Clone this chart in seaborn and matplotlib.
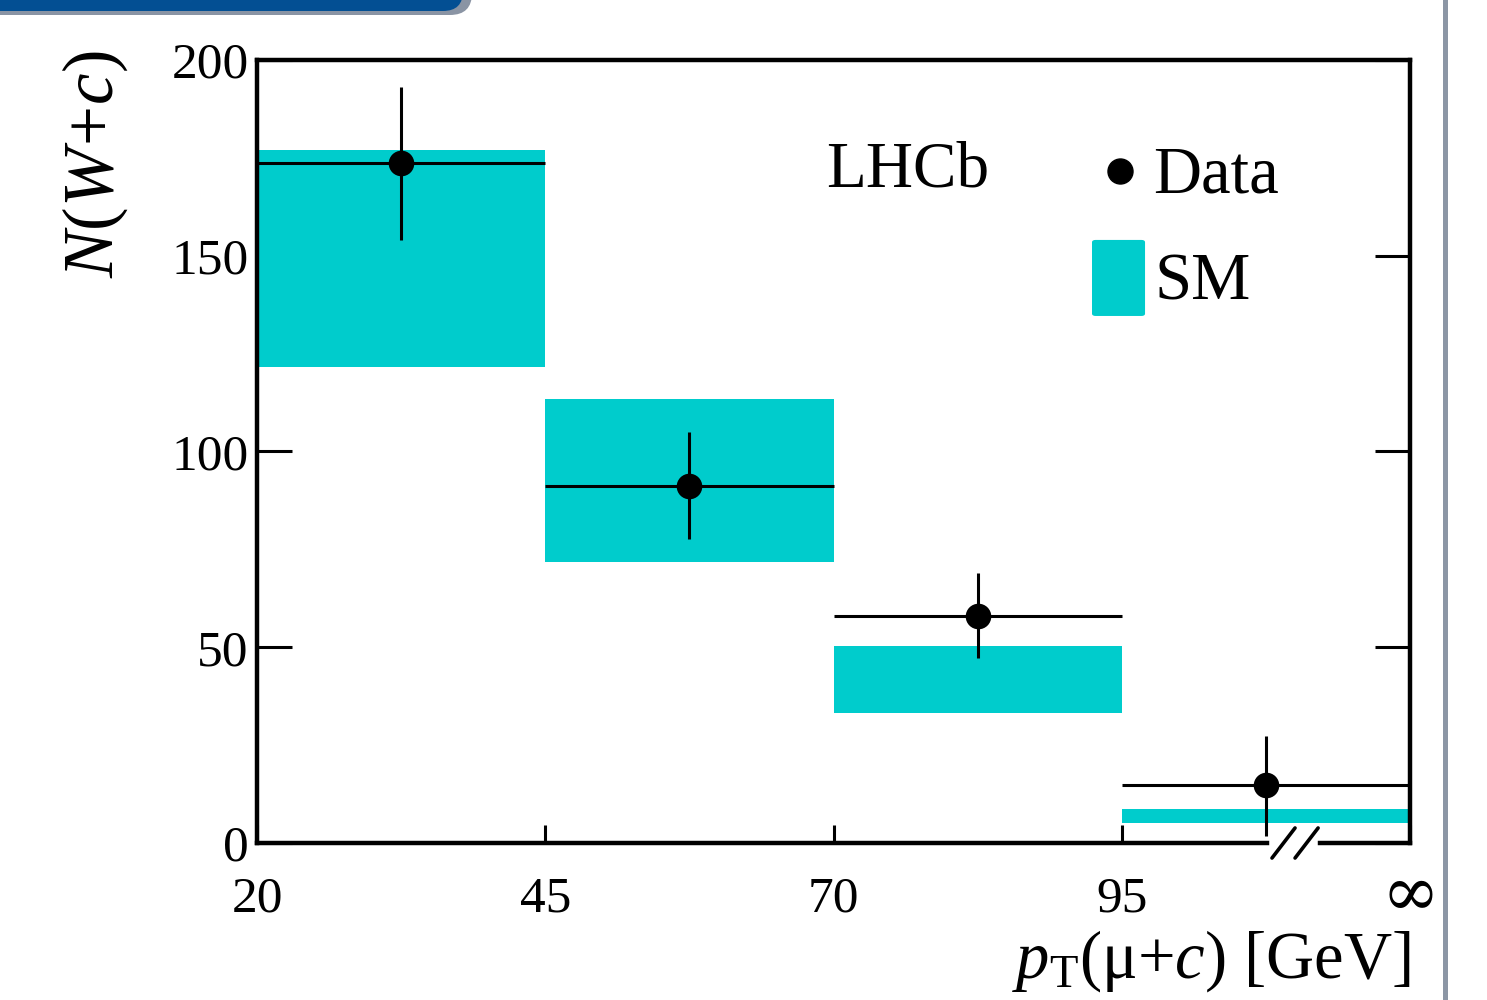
import matplotlib
matplotlib.use("Agg")
import matplotlib.pyplot as plt
import seaborn as sns
import pandas as pd
from matplotlib.patches import FancyBboxPatch, Rectangle
from matplotlib.lines import Line2D
from matplotlib.transforms import IdentityTransform

# ---------------- data ----------------
tick_labels = ["20", "45", "70", "95", "\u221e"]
bin_centers = [0.5, 1.5, 2.5, 3.5]
data_vals = [173.7, 91.2, 58.0, 14.8]
data_err_up = [19.4, 13.8, 11.0, 12.5]
data_err_dn = [19.7, 13.6, 10.7, 13.0]
sm_lo = [121.6, 71.8, 33.2, 5.1]
sm_hi = [177.0, 113.4, 50.3, 8.7]
legend_labels = ["Data", "SM"]

CYAN = "#00CCCC"

sns.set_theme(style="ticks")
plt.rcParams["font.family"] = ["Liberation Serif", "DejaVu Serif"]
plt.rcParams["mathtext.fontset"] = "custom"
plt.rcParams["mathtext.rm"] = "Liberation Serif"
plt.rcParams["mathtext.it"] = "Liberation Serif:italic"
plt.rcParams["mathtext.bf"] = "Liberation Serif:bold"
plt.rcParams["text.color"] = "black"
plt.rcParams["axes.labelcolor"] = "black"
plt.rcParams["xtick.color"] = "black"
plt.rcParams["ytick.color"] = "black"

fig = plt.figure(figsize=(14.87, 10.0), dpi=100)
fig.patch.set_facecolor("white")
ax = fig.add_axes([257 / 1487, 157 / 1000, 1153 / 1487, 783 / 1000])

df = pd.DataFrame({"x": bin_centers, "y": data_vals})

# SM bands
ax.bar(bin_centers, [h - l for h, l in zip(sm_hi, sm_lo)], bottom=sm_lo,
       width=1.0, color=CYAN, linewidth=0, zorder=1)

# data error bars
ax.errorbar(bin_centers, data_vals, xerr=0.5, yerr=[data_err_dn, data_err_up],
            fmt="none", ecolor="black", elinewidth=2.2, capsize=0, zorder=3)
sns.scatterplot(data=df, x="x", y="y", ax=ax, color="black", s=340,
                edgecolor="black", linewidth=0, zorder=4, legend=False)

ax.set_xlim(0, 4)
ax.set_ylim(0, 200)
ax.set_xticks([0, 1, 2, 3, 4])
ax.set_xticklabels(tick_labels[:4] + [""])
ax.set_yticks([0, 50, 100, 150, 200])
ax.set_xlabel("")
ax.set_ylabel("")

for s in ["left", "right", "top"]:
    ax.spines[s].set_linewidth(3.2)
    ax.spines[s].set_color("black")
ax.spines["bottom"].set_visible(False)

# broken bottom axis
ax.plot([0, 0.876], [0, 0], transform=ax.transAxes, color="black", lw=3.2,
        clip_on=False, solid_capstyle="projecting", zorder=5)
ax.plot([0.922, 1.0], [0, 0], transform=ax.transAxes, color="black", lw=3.2,
        clip_on=False, solid_capstyle="projecting", zorder=5)
for x0 in [0.8803, 0.9003]:
    ax.plot([x0, x0 + 0.020], [-0.0192, 0.0192], transform=ax.transAxes,
            color="black", lw=2.6, clip_on=False, zorder=5)

ax.tick_params(axis="y", which="both", direction="in", length=25, width=2.2,
               left=True, right=True, labelsize=37, pad=6, colors="black")
ax.tick_params(axis="x", which="both", direction="in", length=13, width=2.2,
               bottom=True, top=False, labelsize=37, pad=24, colors="black")
# the infinity label at the last bin edge
ax.text(1.0, -0.0926, tick_labels[4], transform=ax.transAxes, fontsize=50,
        family=["DejaVu Serif"], ha="center", va="baseline", color="black")

# LHCb label
ax.text(0.494, 0.838, "LHCb", transform=ax.transAxes, fontsize=47,
        ha="left", va="baseline", color="black")

# legend (keys placed in axes fraction)
ax.add_line(Line2D([0.7485], [0.8582], marker="o", markersize=18, color="black",
                   linestyle="none", transform=ax.transAxes, zorder=6))
ax.text(0.7771, 0.8314, legend_labels[0], transform=ax.transAxes, fontsize=48,
        ha="left", va="baseline", color="black")
ax.add_patch(FancyBboxPatch((0.7242, 0.6731), 0.0460, 0.0971,
                            boxstyle="round,pad=0,rounding_size=0.003",
                            transform=ax.transAxes, facecolor=CYAN,
                            edgecolor="none", zorder=6))
ax.text(0.7788, 0.6935, legend_labels[1], transform=ax.transAxes, fontsize=48,
        ha="left", va="baseline", color="black")

# axis titles
fig.text(1410 / 1487, 0.022, "$p_{\\rm T}$(\u03bc+$c$) [GeV]", fontsize=48,
         ha="right", va="baseline", color="black")
fig.text(95 / 1487, 0.95, r"$N(W\!+\!c)$", fontsize=51, rotation=90,
         ha="center", va="top", color="black")

# slide decorations
fig.add_artist(FancyBboxPatch((-60, 985), 532, 80,
                              boxstyle="round,pad=0,rounding_size=22",
                              transform=IdentityTransform(), facecolor="#8A94A4",
                              edgecolor="none", zorder=10))
fig.add_artist(FancyBboxPatch((-60, 989), 523, 80,
                              boxstyle="round,pad=0,rounding_size=20",
                              transform=IdentityTransform(), facecolor="#034F93",
                              edgecolor="none", zorder=11))
fig.add_artist(Rectangle((1443, -5), 5, 1010, transform=IdentityTransform(),
                         facecolor="#8C96A5", edgecolor="none", zorder=10))

fig.savefig("out.png", dpi=100, facecolor="white")
